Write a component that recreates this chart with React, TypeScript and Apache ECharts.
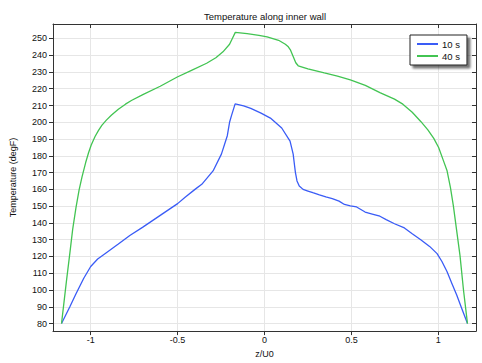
import React, { useEffect, useRef } from "react";
import * as echarts from "echarts";

const seriesNames = ["10 s", "40 s"];
const xName = "z/U0";
const yName = "Temperature (degF)";
const titleText = "Temperature along inner wall";

const blue10s: [number, number][] = [
  [-1.168, 80], [-1.12, 90], [-1.086, 97.5], [-1.04, 107], [-1.0, 114], [-0.96, 118.5],
  [-0.92, 121.5], [-0.841, 127.4], [-0.775, 132.5], [-0.7, 137.5], [-0.6, 144.5],
  [-0.5, 151.5], [-0.455, 155.5], [-0.4, 160], [-0.361, 163], [-0.296, 171],
  [-0.248, 181], [-0.214, 192], [-0.201, 200], [-0.19, 204], [-0.169, 211],
  [-0.12, 209.8], [-0.079, 208.3], [-0.02, 205.5], [0.034, 202.5], [0.099, 196.6],
  [0.147, 188.8], [0.165, 181], [0.172, 175], [0.178, 170], [0.187, 165], [0.2, 162],
  [0.222, 160], [0.25, 159], [0.278, 158], [0.316, 156.7], [0.353, 155.5], [0.39, 154.5],
  [0.429, 153], [0.46, 151], [0.494, 150.2], [0.53, 149.5], [0.579, 146.5], [0.62, 145.3],
  [0.664, 144], [0.7, 142], [0.748, 139.5], [0.805, 137], [0.85, 133.5], [0.899, 130],
  [0.95, 126], [0.993, 121.7], [1.021, 117], [1.05, 111], [1.08, 103.5], [1.106, 97],
  [1.135, 89], [1.168, 80],
];

const green40s: [number, number][] = [
  [-1.168, 80], [-1.14, 105], [-1.12, 122], [-1.104, 136], [-1.085, 149], [-1.067, 159.5],
  [-1.05, 167.5], [-1.029, 176], [-1.012, 182], [-0.997, 186.5], [-0.975, 191.5],
  [-0.955, 195.2], [-0.935, 198.3], [-0.91, 201.3], [-0.88, 204.3], [-0.841, 207.8],
  [-0.8, 210.8], [-0.766, 213], [-0.7, 216.5], [-0.6, 221.5],
  [-0.502, 227], [-0.42, 231], [-0.333, 235.2], [-0.28, 238.5], [-0.239, 242],
  [-0.201, 246.5], [-0.185, 250], [-0.168, 253.6], [-0.1, 252.8], [-0.032, 251.8],
  [0.015, 250.9], [0.081, 248.9], [0.12, 246.5], [0.137, 245], [0.15, 243], [0.165, 239.2],
  [0.18, 235.5], [0.194, 233.7], [0.25, 231.8], [0.344, 229.4], [0.42, 227.5],
  [0.494, 225.3], [0.58, 222], [0.664, 217.7], [0.748, 213.8], [0.796, 210.8],
  [0.85, 206], [0.899, 200.5], [0.94, 195.5], [0.974, 190.4], [1.002, 185], [1.03, 177],
  [1.05, 171.3], [1.07, 161], [1.087, 150], [1.105, 136], [1.125, 120.5], [1.145, 100],
  [1.168, 80],
];

const xMin = -1.217;
const xMax = 1.217;
const yMin = 75.5;
const yMax = 258.6;

const FONT = "'Liberation Sans', Arial, sans-serif";
const AXIS_COLOR = "#333333";
const GRID_COLOR = "#e6e6e6";

export default function App() {
  const ref = useRef<HTMLDivElement>(null);
  useEffect(() => {
    if (!ref.current) return;
    const chart = echarts.init(ref.current, undefined, { renderer: "svg" });
    const axisLine = { show: true, onZero: false, lineStyle: { color: AXIS_COLOR, width: 1 } };
    chart.setOption({
      animation: false,
      textStyle: { fontFamily: FONT },
      title: {
        text: titleText,
        left: 260,
        top: 6,
        textAlign: "center",
        textStyle: { fontSize: 9.5, fontWeight: "normal", color: "#111", fontFamily: FONT },
      },
      grid: { left: 45, right: 6, top: 24, bottom: 26, containLabel: false },
      legend: {
        orient: "vertical",
        left: 410,
        top: 35,
        width: 55,
        padding: [4, 7, 4, 7],
        itemGap: 2,
        itemWidth: 21,
        itemHeight: 2,
        icon: "rect",
        borderColor: "#222",
        borderWidth: 1,
        backgroundColor: "#fff",
        shadowColor: "rgba(0,0,0,0.55)",
        shadowBlur: 2,
        shadowOffsetX: 3,
        shadowOffsetY: 3,
        textStyle: { fontSize: 9.5, color: "#111", fontFamily: FONT, padding: [0, 0, 0, -1] },
        data: seriesNames,
      },
      xAxis: [
        {
          type: "value",
          min: xMin,
          max: xMax,
          splitNumber: 5,
          name: xName,
          nameLocation: "middle",
          nameGap: 11,
          nameTextStyle: { fontSize: 9, color: "#111", fontFamily: FONT },
          axisLine,
          axisTick: { show: true, inside: false, length: 4, lineStyle: { color: AXIS_COLOR } },
          axisLabel: {
            fontSize: 9,
            color: "#111",
            margin: 4,
            showMinLabel: false,
            showMaxLabel: false,
            fontFamily: FONT,
          },
          splitLine: { show: true, lineStyle: { color: GRID_COLOR, width: 1 } },
        },
        {
          type: "value",
          position: "top",
          min: xMin,
          max: xMax,
          splitNumber: 5,
          axisLine,
          axisTick: { show: true, inside: true, length: 4, lineStyle: { color: AXIS_COLOR } },
          axisLabel: { show: false },
          splitLine: { show: false },
        },
      ],
      yAxis: [
        {
          type: "value",
          min: yMin,
          max: yMax,
          splitNumber: 18,
          name: yName,
          nameLocation: "middle",
          nameGap: 36,
          nameTextStyle: { fontSize: 9, color: "#111", fontFamily: FONT },
          axisLine,
          axisTick: { show: true, inside: false, length: 4, lineStyle: { color: AXIS_COLOR } },
          axisLabel: {
            fontSize: 9,
            color: "#111",
            margin: 6,
            showMinLabel: false,
            showMaxLabel: false,
            fontFamily: FONT,
          },
          splitLine: { show: true, lineStyle: { color: GRID_COLOR, width: 1 } },
        },
        {
          type: "value",
          position: "right",
          min: yMin,
          max: yMax,
          splitNumber: 18,
          axisLine,
          axisTick: { show: true, inside: true, length: 4, lineStyle: { color: AXIS_COLOR } },
          axisLabel: { show: false },
          splitLine: { show: false },
        },
      ],
      series: [
        {
          name: seriesNames[0],
          type: "line",
          data: blue10s,
          showSymbol: false,
          symbol: "none",
          xAxisIndex: 0,
          yAxisIndex: 0,
          lineStyle: { color: "#3a5cf6", width: 1.3 },
          itemStyle: { color: "#3a5cf6" },
        },
        {
          name: seriesNames[1],
          type: "line",
          data: green40s,
          showSymbol: false,
          symbol: "none",
          xAxisIndex: 0,
          yAxisIndex: 0,
          lineStyle: { color: "#42c452", width: 1.3 },
          itemStyle: { color: "#42c452" },
        },
      ],
    });
    return () => chart.dispose();
  }, []);
  return <div ref={ref} style={{ width: 482, height: 363, position: "absolute", left: 0, top: 0 }} />;
}
